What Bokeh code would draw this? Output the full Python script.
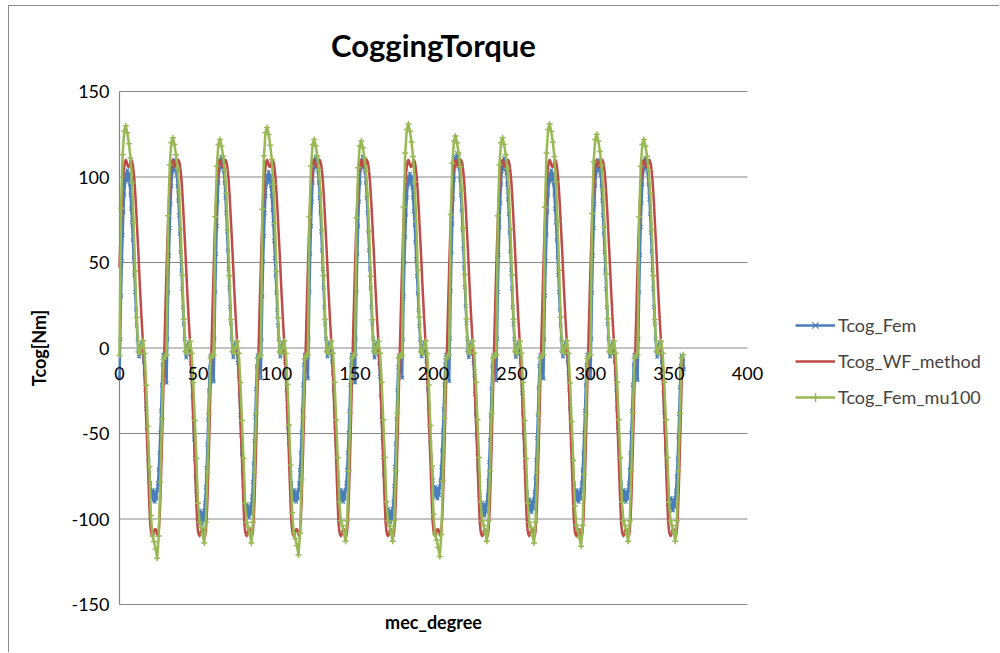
import math
from bokeh.plotting import figure
from bokeh.models import (ColumnDataSource, Legend, LegendItem, Range1d,
                          Label)
from bokeh.embed import file_html
from bokeh.resources import INLINE

# ---------------- data ----------------
TITLE = "CoggingTorque"
X_LABEL = "mec_degree"
Y_LABEL = "Tcog[Nm]"
SERIES_NAMES = ["Tcog_Fem", "Tcog_WF_method", "Tcog_Fem_mu100"]
X_TICKS = [0, 50, 100, 150, 200, 250, 300, 350, 400]
Y_TICKS = [-150, -100, -50, 0, 50, 100, 150]

SLOT_DEG = 30          # one cogging period (mechanical degrees)
N_SLOTS = 12

# Tcog_Fem : one period sampled every 0.5 deg
FEM_STEP = 0.5
FEM_SHAPE = [-18, 5, 30, 50, 65, 78, 88, 95, 100, 96, 102, 97, 100, 94, 88,
             80, 72, 62, 52, 42, 32, 22, 13, 5, -2, -5, -2, 1, 3, 0,
             -3, -8, -15, -25, -36, -47, -57, -66, -74, -80, -85, -88, -84,
             -90, -86, -91, -85, -89, -84, -80, -72, -62, -50, -37, -22,
             -10, -4, -8, -6, -12]
FEM_PEAKS = [104, 110, 112, 103, 112, 112, 102, 114, 111, 104, 110, 111]
FEM_TROUGHS = [-90, -103, -99, -90, -90, -102, -88, -98, -96, -90, -90, -95]

# Tcog_WF_method : one period sampled every 0.5 deg
WF_STEP = 0.5
WF_SHAPE = [47, 62, 75, 86, 95, 102, 106, 109, 110, 109, 107, 106, 106, 107,
            109, 110, 109, 107, 103, 98, 91, 83, 74, 65, 56, 46, 36, 27, 18,
            10, 2, -6, -16, -28, -42, -52, -65, -79, -92, -102, -107, -109,
            -110, -109, -107, -106, -106, -107, -109, -110, -107, -100, -89,
            -74, -58, -40, -22, -4, 14, 31]
WF_END_DEG = 358.5

# Tcog_Fem_mu100 : one period sampled every 1 deg
MU_STEP = 1.0
MU_SHAPE = [-4, 78, 108, 121, 124, 120, 114, 106, 92, 70, 43, 17, -2, -3, 1,
            4, -3, -20, -42, -64, -90, -101, -104, -108, -113, -101, -72,
            -38, -6, -4]
MU_PEAKS = [130, 123, 122, 129, 122, 121, 131, 124, 123, 131, 125, 122]
MU_TROUGHS = [-123, -114, -114, -121, -113, -113, -122, -113, -114, -116,
              -113, -113]

COLORS = ["#4A7EBB", "#BE4B48", "#98B954"]
GRID_COLOR = "#868686"
FONT = "Lato"


def build(shape, step, peaks=None, troughs=None, end=None):
    xs, ys = [], []
    smax, smin = max(shape), min(shape)
    for c in range(N_SLOTS):
        for i, v in enumerate(shape):
            x = c * SLOT_DEG + i * step
            if end is not None and x > end:
                continue
            if peaks is None:
                y = v
            elif v >= 0:
                y = v * peaks[c] / smax
            else:
                y = v * troughs[c] / smin
            xs.append(x)
            ys.append(y)
    return ColumnDataSource(dict(x=xs, y=ys))


src_fem = build(FEM_SHAPE, FEM_STEP, FEM_PEAKS, FEM_TROUGHS)
src_wf = build(WF_SHAPE, WF_STEP, end=WF_END_DEG)
src_mu = build(MU_SHAPE, MU_STEP, MU_PEAKS, MU_TROUGHS)

# ---------------- layout (page pixels) ----------------
OX, OY = 9, 6                 # page offset of the canvas (margin + border)
W, H = 1000 - OX, 653 - OY
AX_X0, AX_X1 = 119, 747       # page x of x = 0 and x = 400
AX_Y0, AX_Y1 = 604, 91        # page y of y = -150 and y = 150

xmin, xmax = X_TICKS[0], X_TICKS[-1]
ymin, ymax = Y_TICKS[0], Y_TICKS[-1]
sx = (AX_X1 - AX_X0) / (xmax - xmin)
sy = (AX_Y0 - AX_Y1) / (ymax - ymin)
x_start = xmin - (AX_X0 - OX) / sx
x_end = xmax + (1000 - AX_X1) / sx
y_start = ymin - (653 - AX_Y0) / sy
y_end = ymax + (AX_Y1 - OY) / sy
xmid = (xmin + xmax) / 2
ymid = (ymin + ymax) / 2

# the whole canvas is the drawing area; every text is placed on it
p = figure(width=W, height=H, x_range=Range1d(x_start, x_end),
           y_range=Range1d(y_start, y_end), output_backend="svg",
           toolbar_location=None, min_border=0,
           x_axis_type=None, y_axis_type=None)
p.styles = {"margin-left": "8px", "margin-top": "5px",
            "border-left": "1px solid #8a8a8a",
            "border-top": "1px solid #8a8a8a"}
p.outline_line_color = None
p.background_fill_color = "white"
p.border_fill_color = "white"
p.xgrid.visible = False
p.ygrid.visible = False

# gridlines (x = 0 .. 400) and the vertical axis line at x = 0
p.segment(x0=[xmin] * len(Y_TICKS), y0=Y_TICKS, x1=[xmax] * len(Y_TICKS),
          y1=Y_TICKS, line_color=GRID_COLOR, line_width=1)
p.segment(x0=[xmin], y0=[ymin], x1=[xmin], y1=[ymax],
          line_color=GRID_COLOR, line_width=1.2)

# series
l_fem = p.line("x", "y", source=src_fem, color=COLORS[0], line_width=2.5,
               line_join="round")
m_fem = p.scatter("x", "y", source=src_fem, marker="x", size=5,
                  line_color=COLORS[0], line_width=1.2)
l_wf = p.line("x", "y", source=src_wf, color=COLORS[1], line_width=2.5,
              line_join="round")
l_mu = p.line("x", "y", source=src_mu, color=COLORS[2], line_width=2.5,
              line_join="round")
m_mu = p.scatter("x", "y", source=src_mu, marker="cross", size=6,
                 line_color=COLORS[2], line_width=1.5)


def label(**kw):
    base = dict(text_font=FONT, text_font_size="18px", text_color="black",
                text_baseline="middle")
    base.update(kw)
    p.add_layout(Label(**base))


# x tick labels along the y = 0 line
for t in X_TICKS:
    label(x=t, y=0, text=str(t), text_align="center", y_offset=-25)

# y tick labels
for t in Y_TICKS:
    label(x=xmin, y=t, text=str(t), text_align="right", x_offset=-10)

# title and axis titles
label(x=xmid, y=ymax, text=TITLE, text_align="center", y_offset=47,
      text_font_size="31px", text_font_style="bold")
label(x=xmid, y=ymin, text=X_LABEL, text_align="center", y_offset=-17,
      text_font_style="bold")
label(x=xmin, y=ymid, text=Y_LABEL, text_align="center", x_offset=-81,
      angle=math.pi / 2, text_font_style="bold")

# legend
LEG_X, LEG_TOP = 795, 314     # page px of legend glyph start / first row top
ROW_H, ROW_GAP = 22, 14
leg_h = 3 * ROW_H + 2 * ROW_GAP
legend = Legend(items=[
    LegendItem(label=SERIES_NAMES[0], renderers=[l_fem, m_fem]),
    LegendItem(label=SERIES_NAMES[1], renderers=[l_wf]),
    LegendItem(label=SERIES_NAMES[2], renderers=[l_mu, m_mu]),
], location=(LEG_X - OX, 653 - (LEG_TOP + leg_h)))
legend.border_line_color = None
legend.background_fill_alpha = 0
legend.label_text_font = FONT
legend.label_text_font_size = "18px"
legend.glyph_width = 40
legend.glyph_height = ROW_H
legend.label_height = ROW_H
legend.spacing = ROW_GAP
legend.padding = 0
legend.margin = 0
legend.label_standoff = 3
p.add_layout(legend)

open("out.html", "w").write(file_html(p, INLINE))
